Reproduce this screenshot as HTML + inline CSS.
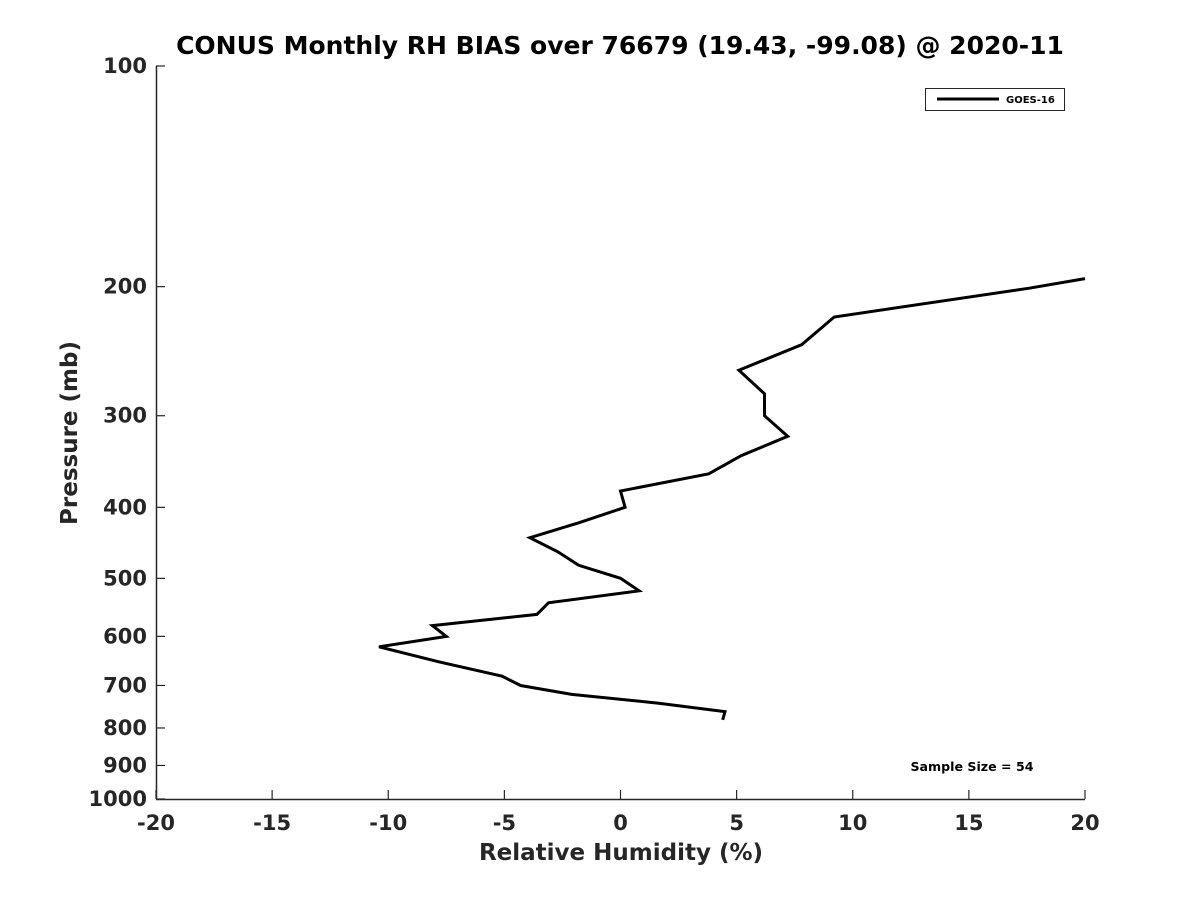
<!DOCTYPE html>
<html><head><meta charset="utf-8"><style>
html,body{margin:0;padding:0;background:#fff;}
svg{display:block;font-family:"DejaVu Sans","Liberation Sans",sans-serif;}
</style></head><body>
<svg id="chart" width="1200" height="900" viewBox="0 0 1200 900" xmlns="http://www.w3.org/2000/svg">
<rect width="1200" height="900" fill="#fff"/>
<text x="620" y="54" text-anchor="middle" font-size="25" font-weight="bold" fill="#000">CONUS Monthly RH BIAS over 76679 (19.43, -99.08) @ 2020-11</text>
<g id="axes"></g>
<text x="621" y="860" text-anchor="middle" font-size="23" font-weight="bold" fill="#262626">Relative Humidity (%)</text>
<text transform="translate(77,433) rotate(-90)" text-anchor="middle" font-size="23" font-weight="bold" fill="#262626">Pressure (mb)</text>
<g>
<rect x="925.5" y="88.5" width="139" height="22" fill="#fff" stroke="#262626" stroke-width="1"/>
<line x1="937" y1="99" x2="999" y2="99" stroke="#000" stroke-width="3"/>
<text x="1006" y="103" font-size="10" font-weight="bold" fill="#000">GOES-16</text>
</g>
<text x="972" y="771" text-anchor="middle" font-size="12.6" font-weight="bold" fill="#000">Sample Size = 54</text>
</svg>
<script>
const xTicks = [-20,-15,-10,-5,0,5,10,15,20];
const yTicks = [100,200,300,400,500,600,700,800,900,1000];
const pressure = [195,201,220,240,260,280,300,320,340,360,380,400,420,440,460,480,500,520,540,560,580,600,620,650,680,700,720,740,760,780];
const rhBias = [20.0,17.6,9.2,7.8,5.1,6.2,6.2,7.2,5.2,3.8,0.0,0.2,-1.8,-3.9,-2.7,-1.8,0.0,0.8,-3.1,-3.6,-8.1,-7.5,-10.4,-7.8,-5.1,-4.3,-2.1,1.6,4.5,4.4];

const X0=156,X1=1085,Y0=66,Y1=799;
function xs(v){return X0+(v+20)/40*(X1-X0);}
function ys(p){return Y0+(Math.log10(p)-2)*(Y1-Y0);}
const NS="http://www.w3.org/2000/svg";
const svg=document.getElementById('chart');
const axes=document.getElementById('axes');
function mk(tag,attrs,parent){const e=document.createElementNS(NS,tag);for(const k in attrs)e.setAttribute(k,attrs[k]);(parent||axes).appendChild(e);return e;}

const xl=mk('line',{x1:X0,y1:Y1+0.5,x2:X1,y2:Y1+0.5,stroke:'#262626','stroke-width':1.5});


const yl=mk('line',{x1:X0+0.5,y1:Y0,x2:X0+0.5,y2:Y1,stroke:'#262626','stroke-width':1.5});



xTicks.forEach(v=>{
  const x=xs(v);
  const t=mk('line',{x1:x,y1:Y1,x2:x,y2:Y1-9,stroke:'#262626','stroke-width':1.2});
  
  
  const l=mk('text',{x:x,y:Y1+31,'text-anchor':'middle','font-size':21,'font-weight':'bold',fill:'#262626'});
  l.textContent=v;
  
  
});
yTicks.forEach(p=>{
  const y=ys(p);
  const t=mk('line',{x1:X0,y1:y,x2:X0+9,y2:y,stroke:'#262626','stroke-width':1.2});
  
  
  const l=mk('text',{x:X0-9,y:y+7,'text-anchor':'end','font-size':21,'font-weight':'bold',fill:'#262626'});
  l.textContent=p;
  
  
});
const pts=pressure.map((p,i)=>xs(rhBias[i]).toFixed(1)+','+ys(p).toFixed(1)).join(' ');
const line=mk('polyline',{points:pts,fill:'none',stroke:'#000','stroke-width':3,'stroke-linejoin':'miter'},svg);


</script>
</body></html>
